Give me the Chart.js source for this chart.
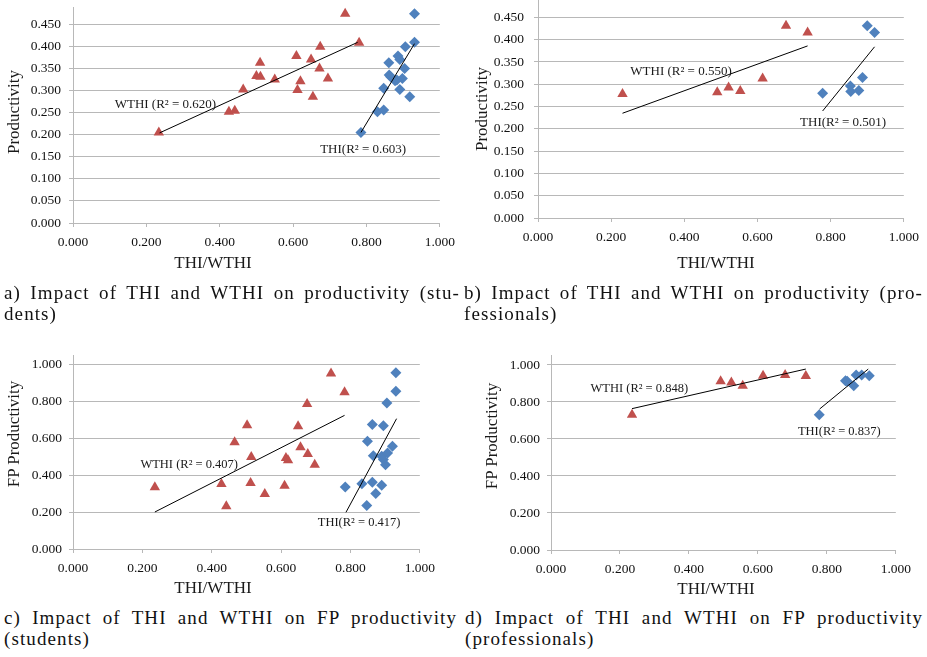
<!DOCTYPE html>
<html>
<head>
<meta charset="utf-8">
<script src="https://cdn.jsdelivr.net/npm/chart.js@4.4.1/dist/chart.umd.min.js"></script>
<style>
  html, body { margin: 0; padding: 0; background: #fff; }
  #fig {
    position: relative; width: 927px; height: 657px; overflow: hidden; background: #fff;
    font-family: "Liberation Serif", "Times New Roman", serif; color: #1a1a1a;
  }
  canvas { position: absolute; }
  .ytitle { position: absolute; transform: translate(-50%, -50%) rotate(-90deg); white-space: nowrap; font-size: 17px; }
  .xtitle { position: absolute; transform: translate(-50%, -50%); white-space: nowrap; font-size: 17px; }
  .cap { position: absolute; font-size: 19px; line-height: 21px; color: #111; letter-spacing: 1.1px; }
  .cap .l1 { text-align: justify; text-align-last: justify; margin-right: -1px; }
</style>
</head>
<body>
<div id="fig">
  <canvas id="chartA"></canvas>
  <canvas id="chartB"></canvas>
  <canvas id="chartC"></canvas>
  <canvas id="chartD"></canvas>

  <div class="ytitle" style="left:14px;top:112px">Productivity</div>
  <div class="ytitle" style="left:482px;top:109px">Productivity</div>
  <div class="ytitle" style="left:14px;top:434px">FP Productivity</div>
  <div class="ytitle" style="left:492px;top:436px">FP Productivity</div>

  <div class="xtitle" style="left:213px;top:263px">THI/WTHI</div>
  <div class="xtitle" style="left:716px;top:263px">THI/WTHI</div>
  <div class="xtitle" style="left:213px;top:588px">THI/WTHI</div>
  <div class="xtitle" style="left:716px;top:589px">THI/WTHI</div>

  <div class="cap" style="left:4px;top:282px;width:455px">
    <div class="l1">a) Impact of THI and WTHI on productivity (stu-</div>
    <div>dents)</div>
  </div>
  <div class="cap" style="left:464px;top:282px;width:458px">
    <div class="l1">b) Impact of THI and WTHI on productivity (pro-</div>
    <div>fessionals)</div>
  </div>
  <div class="cap" style="left:4px;top:607px;width:452px">
    <div class="l1">c) Impact of THI and WTHI on FP productivity</div>
    <div>(students)</div>
  </div>
  <div class="cap" style="left:465px;top:607px;width:457px">
    <div class="l1">d) Impact of THI and WTHI on FP productivity</div>
    <div>(professionals)</div>
  </div>
</div>

<script>
// --- values ---------------------------------------------------------------
const xTickStep = 0.2;

// a) productivity, students
const aWthiX = [0.234, 0.425, 0.441, 0.464, 0.500, 0.510, 0.511, 0.550, 0.609, 0.612, 0.620, 0.649, 0.654, 0.674, 0.672, 0.695, 0.742, 0.780];
const aWthiY = [0.205, 0.252, 0.254, 0.302, 0.333, 0.363, 0.331, 0.325, 0.378, 0.301, 0.321, 0.370, 0.286, 0.399, 0.350, 0.327, 0.474, 0.408];
const aThiX = [0.785, 0.830, 0.847, 0.847, 0.861, 0.862, 0.866, 0.886, 0.891, 0.891, 0.898, 0.883, 0.878, 0.904, 0.906, 0.918, 0.931, 0.931];
const aThiY = [0.205, 0.252, 0.256, 0.305, 0.363, 0.335, 0.331, 0.378, 0.370, 0.302, 0.327, 0.324, 0.322, 0.350, 0.399, 0.286, 0.409, 0.474];
const aWthiFitX = [0.236, 0.776], aWthiFitY = [0.204, 0.409];
const aThiFitX = [0.785, 0.931], aThiFitY = [0.205, 0.406];

// b) productivity, professionals
const bWthiX = [0.231, 0.490, 0.521, 0.553, 0.614, 0.678, 0.737];
const bWthiY = [0.278, 0.282, 0.293, 0.285, 0.313, 0.431, 0.416];
const bThiX = [0.778, 0.854, 0.855, 0.877, 0.887, 0.900, 0.920];
const bThiY = [0.280, 0.296, 0.284, 0.286, 0.315, 0.431, 0.416];
const bWthiFitX = [0.231, 0.737], bWthiFitY = [0.235, 0.386];
const bThiFitX = [0.778, 0.920], bThiFitY = [0.240, 0.384];

// c) FP productivity, students
const cWthiX = [0.236, 0.428, 0.442, 0.466, 0.502, 0.512, 0.514, 0.553, 0.610, 0.614, 0.620, 0.649, 0.656, 0.675, 0.677, 0.697, 0.744, 0.783];
const cWthiY = [0.335, 0.353, 0.232, 0.580, 0.672, 0.359, 0.500, 0.299, 0.344, 0.495, 0.482, 0.667, 0.553, 0.788, 0.516, 0.458, 0.953, 0.851];
const cThiX = [0.785, 0.833, 0.847, 0.849, 0.863, 0.863, 0.866, 0.873, 0.890, 0.890, 0.895, 0.895, 0.901, 0.907, 0.905, 0.921, 0.931, 0.931];
const cThiY = [0.337, 0.355, 0.236, 0.585, 0.676, 0.362, 0.507, 0.301, 0.346, 0.504, 0.486, 0.670, 0.458, 0.522, 0.793, 0.558, 0.957, 0.857];
const cWthiFitX = [0.236, 0.783], cWthiFitY = [0.201, 0.726];
const cThiFitX = [0.787, 0.933], cThiFitY = [0.199, 0.708];

// d) FP productivity, professionals
const dWthiX = [0.235, 0.492, 0.523, 0.556, 0.615, 0.679, 0.739];
const dWthiY = [0.731, 0.912, 0.906, 0.888, 0.942, 0.946, 0.940];
const dThiX = [0.778, 0.854, 0.859, 0.878, 0.885, 0.901, 0.923];
const dThiY = [0.731, 0.915, 0.912, 0.888, 0.946, 0.946, 0.942];
const dWthiFitX = [0.235, 0.739], dWthiFitY = [0.764, 0.978];
const dThiFitX = [0.779, 0.920], dThiFitY = [0.762, 0.978];

// --- drawing ----------------------------------------------------------------
const RED = "#C0504D";
const BLUE = "#4F81BD";
const GRID = "#b8b8b8";
const FONT = "'Liberation Serif', 'Times New Roman', serif";

const pts = (xs, ys) => xs.map((x, i) => ({ x, y: ys[i] }));

// R² annotations, anchored in data units
const r2Labels = {
  id: "r2Labels",
  afterDatasetsDraw(chart, args, opts) {
    const { ctx, scales: { x, y } } = chart;
    ctx.save();
    ctx.font = `${opts.size}px ${FONT}`;
    ctx.fillStyle = "#1a1a1a";
    ctx.textAlign = "center";
    ctx.textBaseline = "middle";
    for (const l of opts.items) {
      ctx.fillText(l.text, x.getPixelForValue(l.x), y.getPixelForValue(l.y));
    }
    ctx.restore();
  },
};

function makeChart(id, box, yMax, yStep, yPad, s, labels, labelSize) {
  const cx = box.cx, cy = box.top - 20;
  const W = box.right - cx + 20;
  const H = box.bottom - cy + 34;
  const el = document.getElementById(id);
  el.width = W; el.height = H;
  el.style.left = cx + "px"; el.style.top = cy + "px";
  el.style.width = W + "px"; el.style.height = H + "px";

  const tickFont = { family: FONT, size: 13.5 };
  new Chart(el, {
    type: "scatter",
    data: {
      datasets: [
        { data: pts(s.wfx, s.wfy), showLine: true, borderColor: "#000", borderWidth: 1, pointRadius: 0 },
        { data: pts(s.tfx, s.tfy), showLine: true, borderColor: "#000", borderWidth: 1, pointRadius: 0 },
        { data: pts(s.wx, s.wy), pointStyle: "triangle", pointRadius: 6, backgroundColor: RED, borderColor: RED, borderWidth: 0 },
        { data: pts(s.tx, s.ty), pointStyle: "rectRot", pointRadius: 5.5, backgroundColor: BLUE, borderColor: BLUE, borderWidth: 0 },
      ],
    },
    options: {
      responsive: false, animation: false, devicePixelRatio: 1,
      layout: { padding: { left: 0, top: 20, right: 20, bottom: 4 } },
      plugins: {
        legend: { display: false }, tooltip: { enabled: false },
        r2Labels: { items: labels, size: labelSize },
      },
      scales: {
        x: {
          type: "linear", min: 0, max: 1,
          afterFit: (sc) => { sc.height = 30; },
          ticks: { stepSize: xTickStep, padding: 7, color: "#111", font: tickFont,
                   callback: (v) => v.toFixed(3), maxRotation: 0 },
          grid: { drawOnChartArea: false, drawTicks: true, tickLength: 4, color: GRID },
          border: { color: GRID, width: 1 },
        },
        y: {
          type: "linear", min: 0, max: yMax,
          afterFit: (sc) => { sc.width = box.left - cx; },
          ticks: { stepSize: yStep, includeBounds: false, padding: yPad, color: "#111", font: tickFont,
                   callback: (v) => v.toFixed(3) },
          grid: { color: GRID, lineWidth: 1, tickLength: 4 },
          border: { color: GRID, width: 1 },
        },
      },
    },
    plugins: [r2Labels],
  });
}

makeChart("chartA", { cx: 0, left: 73, right: 442, top: 7, bottom: 223 }, 0.489, 0.05, 8,
  { wx: aWthiX, wy: aWthiY, tx: aThiX, ty: aThiY, wfx: aWthiFitX, wfy: aWthiFitY, tfx: aThiFitX, tfy: aThiFitY },
  [{ text: "WTHI (R² = 0.620)", x: 0.252, y: 0.269 }, { text: "THI(R² = 0.603)", x: 0.791, y: 0.167 }], 13);

makeChart("chartB", { cx: 460, left: 538, right: 906, top: 0, bottom: 218 }, 0.489, 0.05, 10,
  { wx: bWthiX, wy: bWthiY, tx: bThiX, ty: bThiY, wfx: bWthiFitX, wfy: bWthiFitY, tfx: bThiFitX, tfy: bThiFitY },
  [{ text: "WTHI (R² = 0.550)", x: 0.391, y: 0.329 }, { text: "THI(R² = 0.501)", x: 0.834, y: 0.213 }], 13);

makeChart("chartC", { cx: 0, left: 73, right: 422, top: 355, bottom: 549 }, 1.054, 0.2, 7,
  { wx: cWthiX, wy: cWthiY, tx: cThiX, ty: cThiY, wfx: cWthiFitX, wfy: cWthiFitY, tfx: cThiFitX, tfy: cThiFitY },
  [{ text: "WTHI (R² = 0.407)", x: 0.335, y: 0.457 }, { text: "THI(R² = 0.417)", x: 0.825, y: 0.141 }], 12.5);

makeChart("chartD", { cx: 460, left: 551, right: 898, top: 355, bottom: 550 }, 1.054, 0.2, 7,
  { wx: dWthiX, wy: dWthiY, tx: dThiX, ty: dThiY, wfx: dWthiFitX, wfy: dWthiFitY, tfx: dThiFitX, tfy: dThiFitY },
  [{ text: "WTHI (R² = 0.848)", x: 0.256, y: 0.870 }, { text: "THI(R² = 0.837)", x: 0.836, y: 0.638 }], 12.5);
</script>
</body>
</html>
